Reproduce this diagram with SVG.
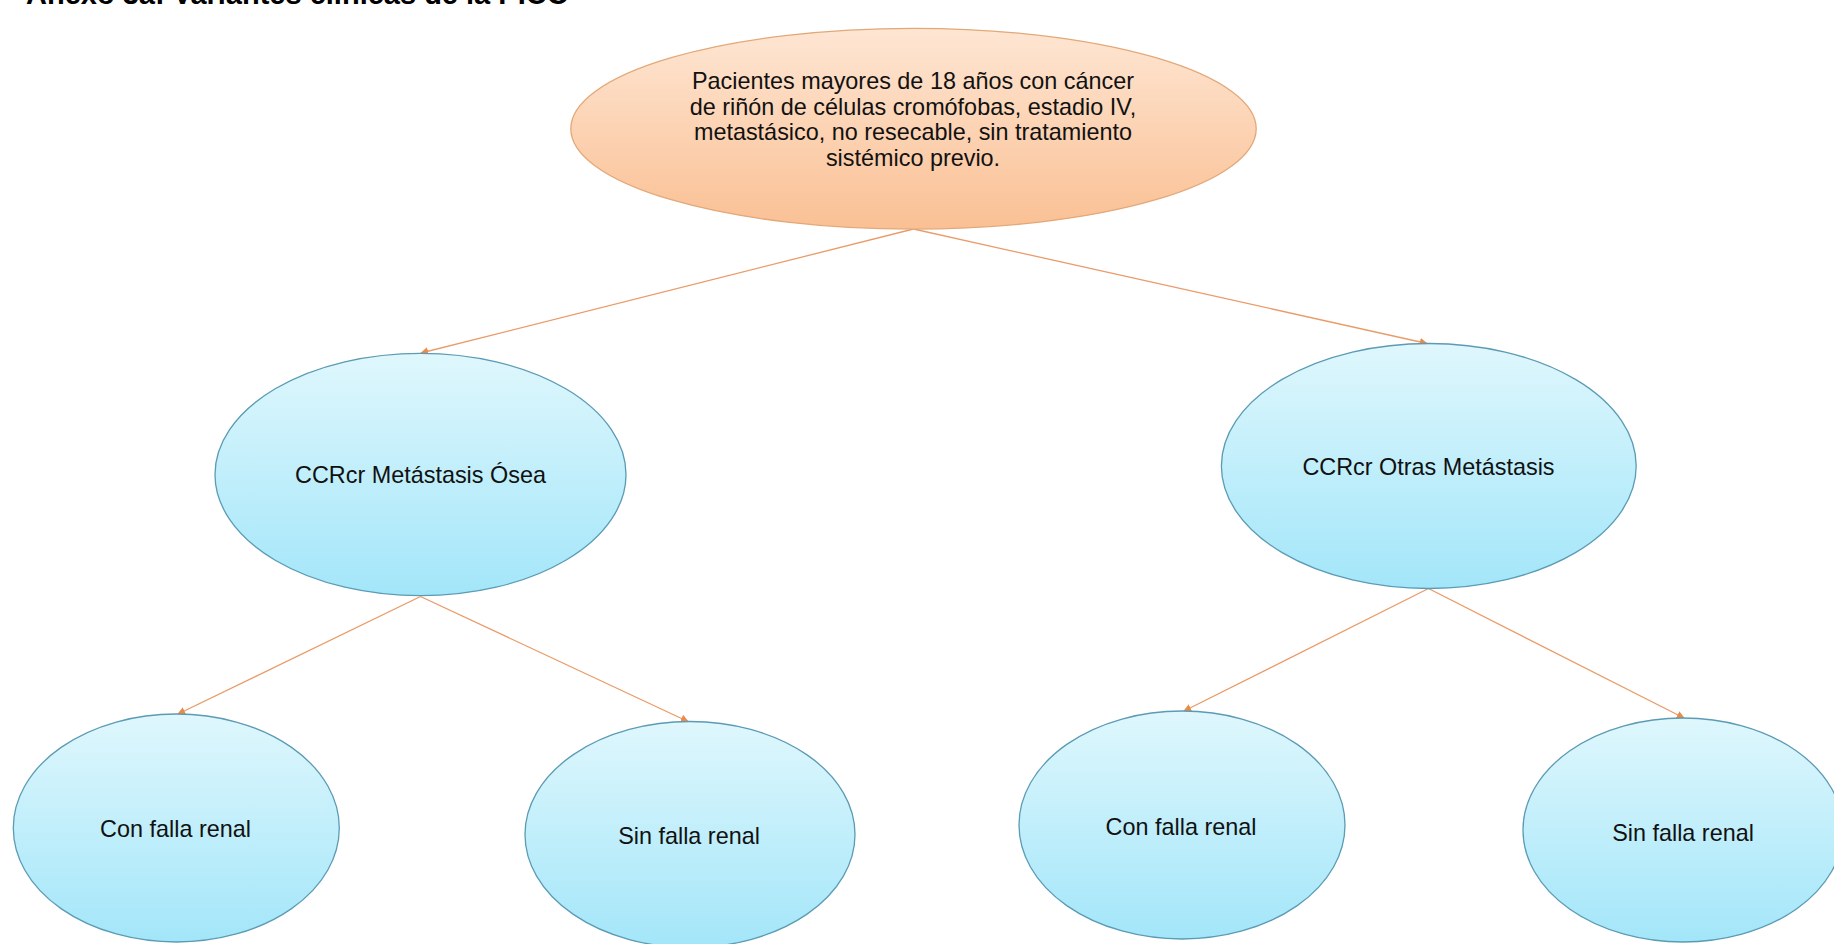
<svg xmlns="http://www.w3.org/2000/svg" width="1834" height="944" viewBox="0 0 1834 944">
  <defs>
    <linearGradient id="gOrange" x1="0" y1="0" x2="0" y2="1">
      <stop offset="0" stop-color="#FEE6D3"/>
      <stop offset="1" stop-color="#FAC094"/>
    </linearGradient>
    <linearGradient id="gBlue" x1="0" y1="0" x2="0" y2="1">
      <stop offset="0" stop-color="#DFF7FD"/>
      <stop offset="1" stop-color="#A3E6F9"/>
    </linearGradient>
    <marker id="arrow" viewBox="0 0 10 10" refX="9" refY="5" markerWidth="8" markerHeight="8" markerUnits="userSpaceOnUse" orient="auto">
      <path d="M0,0 L10,5 L0,10 z" fill="#EC8A48"/>
    </marker>
  </defs>
  <style>
    .root { fill: url(#gOrange); stroke: #E3A878; stroke-width: 1.3; }
    .node { fill: url(#gBlue); stroke: #5B9BB4; stroke-width: 1.3; }
    .lbl { font-family: "Liberation Sans", Arial, sans-serif; font-size: 23.4px; fill: #111111; text-anchor: middle; }
    .title { font-family: "Liberation Sans", Arial, sans-serif; font-size: 29px; font-weight: bold; fill: #000; }
    .conn line { stroke: #EA9B68; stroke-width: 1.3; fill: none; marker-end: url(#arrow); }
  </style>
  <rect width="1834" height="944" fill="#FFFFFF"/>
  <text class="title" x="26" y="4">Anexo 3a: Variantes clínicas de la PICO</text>

  <g id="connectors" class="conn">
    <line x1="913.5" y1="229" x2="421" y2="353"/>
    <line x1="913.5" y1="229" x2="1427" y2="343.5"/>
    <line x1="420.5" y1="596.5" x2="178" y2="714"/>
    <line x1="420.5" y1="596.5" x2="688" y2="721.5"/>
    <line x1="1428.5" y1="588.5" x2="1184" y2="711"/>
    <line x1="1428.5" y1="588.5" x2="1684" y2="718"/>
  </g>

  <g id="n_root">
    <ellipse class="root" cx="913.5" cy="128.7" rx="342.7" ry="100.4"/>
    <text class="lbl" x="913" y="89">Pacientes mayores de 18 años con cáncer</text>
    <text class="lbl" x="913" y="114.5">de riñón de células cromófobas, estadio IV,</text>
    <text class="lbl" x="913" y="140">metastásico, no resecable, sin tratamiento</text>
    <text class="lbl" x="913" y="165.5">sistémico previo.</text>
  </g>

  <g id="n_osea">
    <ellipse class="node" cx="420.5" cy="474.5" rx="205.5" ry="121.2"/>
    <text class="lbl" x="420.5" y="483">CCRcr Metástasis Ósea</text>
  </g>

  <g id="n_otras">
    <ellipse class="node" cx="1428.8" cy="466" rx="207.4" ry="122.5"/>
    <text class="lbl" x="1428.5" y="475">CCRcr Otras Metástasis</text>
  </g>

  <g id="n_osea_con">
    <ellipse class="node" cx="176.3" cy="828" rx="163" ry="114"/>
    <text class="lbl" x="175.5" y="837">Con falla renal</text>
  </g>

  <g id="n_osea_sin">
    <ellipse class="node" cx="690" cy="834.5" rx="165" ry="113"/>
    <text class="lbl" x="689" y="844">Sin falla renal</text>
  </g>

  <g id="n_otras_con">
    <ellipse class="node" cx="1182" cy="825" rx="163" ry="114"/>
    <text class="lbl" x="1181" y="834.5">Con falla renal</text>
  </g>

  <g id="n_otras_sin">
    <ellipse class="node" cx="1683" cy="830" rx="160" ry="112"/>
    <text class="lbl" x="1683" y="840.5">Sin falla renal</text>
  </g>
</svg>
